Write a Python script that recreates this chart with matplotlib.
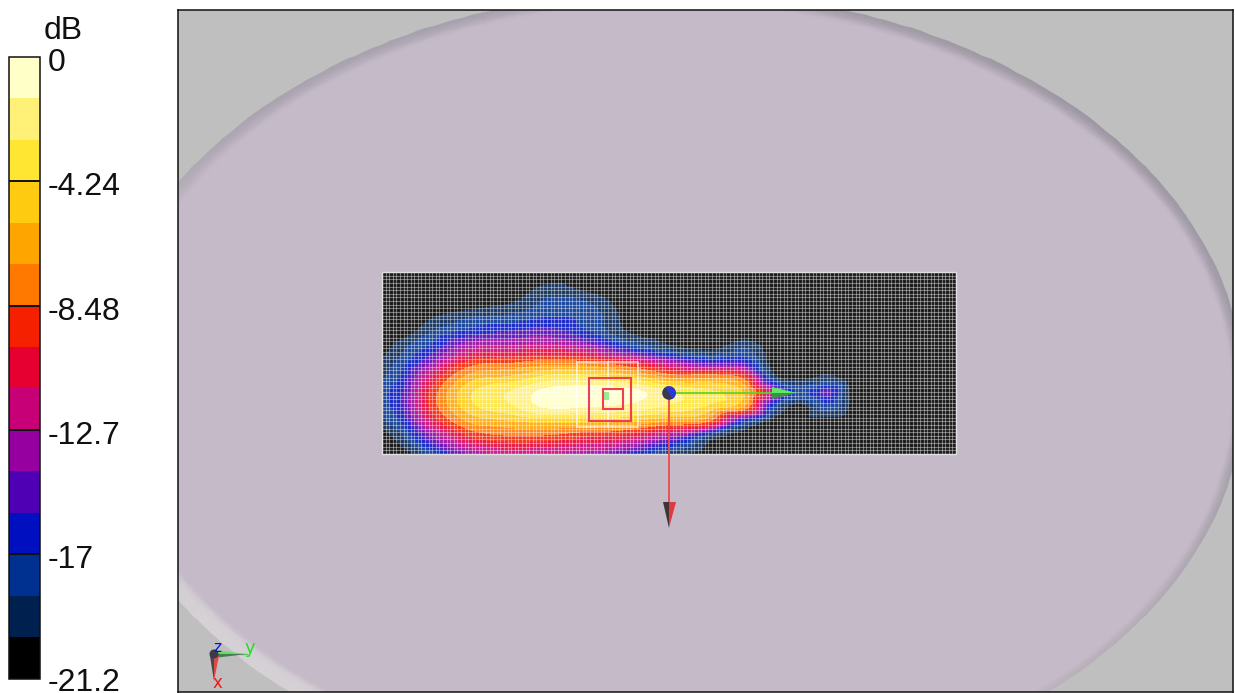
import numpy as np
import matplotlib
matplotlib.use("Agg")
import matplotlib.pyplot as plt
import matplotlib.tri as mtri
from matplotlib.colors import ListedColormap, BoundaryNorm
from matplotlib.cm import ScalarMappable
from matplotlib.patches import Polygon, Circle, Rectangle, Ellipse, Wedge

plt.rcParams['font.family'] = ['Liberation Sans', 'DejaVu Sans']

# ---- data ---------------------------------------------------------------
tick_values = [0, -4.24, -8.48, -12.72, -16.96, -21.2]
tick_labels = ['0', '-4.24', '-8.48', '-12.7', '-17', '-21.2']
band_colors = ['#000000', '#002050', '#003090', '#0010c0', '#5000b4',
               '#9600a0', '#c80078', '#e60032', '#f52000', '#ff7800',
               '#ffa500', '#ffcb10', '#ffe632', '#fff078', '#ffffc8']

scan_x = [382, 400, 430, 470, 510, 550, 590, 630, 670, 710, 745, 775, 800, 830, 850, 875, 956]
scan_y = [272, 287, 302, 317, 332, 347, 362, 377, 392, 407, 422, 437, 454]
db_382 = [-21, -21, -21, -21, -21, -21, -19.5, -18.7, -17.5, -17.8, -19, -21, -21]
db_400 = [-21, -21, -21, -21, -21, -19, -18, -17, -16, -16, -17.2, -19, -21]
db_430 = [-21, -21, -21, -20, -18.5, -16.8, -14.5, -11.5, -9.8, -9.8, -11.5, -14.5, -18]
db_470 = [-21, -21, -21, -18.5, -16.5, -13, -9.5, -6.5, -4.5, -4.8, -7, -10, -14]
db_510 = [-21, -21, -20, -18, -15.5, -12.5, -8.8, -5.5, -2.8, -3.2, -6, -8.8, -12.5]
db_550 = [-21, -19.5, -18, -17, -15, -12, -8, -3.8, -0.8, -1.2, -5.5, -9, -13]
db_590 = [-21, -20.5, -18.5, -17.5, -17, -13.5, -8.5, -3.8, -0.3, -1.5, -5.5, -10, -13.5]
db_630 = [-21, -21, -21, -20.5, -20, -17, -10.5, -5, -0.8, -2, -6, -11, -16]
db_670 = [-21, -21, -21, -21, -21, -19.5, -13.5, -7.5, -2.8, -3.2, -7.5, -14, -19]
db_710 = [-21, -21, -21, -21, -21, -20.5, -15.8, -7.5, -4, -4.8, -9, -19, -21]
db_745 = [-21, -21, -21, -21, -21, -18.5, -16, -9.5, -6, -7.5, -17.5, -21, -21]
db_775 = [-21, -21, -21, -21, -21, -21, -21, -19.5, -13.5, -18, -21, -21, -21]
db_800 = [-21, -21, -21, -21, -21, -21, -21, -20.5, -17.5, -20.5, -21, -21, -21]
db_830 = [-21, -21, -21, -21, -21, -21, -21, -19.5, -15.3, -17.5, -21, -21, -21]
db_850 = [-21, -21, -21, -21, -21, -21, -21, -21, -19.8, -20, -21, -21, -21]
db_875 = [-21, -21, -21, -21, -21, -21, -21, -21, -21, -21, -21, -21, -21]
db_956 = [-21, -21, -21, -21, -21, -21, -21, -21, -21, -21, -21, -21, -21]
db_columns = [db_382, db_400, db_430, db_470, db_510, db_550, db_590, db_630, db_670,
              db_710, db_745, db_775, db_800, db_830, db_850, db_875, db_956]

# ---- figure -------------------------------------------------------------
W, H = 1235, 693
fig = plt.figure(figsize=(W / 100, H / 100), dpi=100, facecolor='white')


def axes_px(x0, y0, x1, y1):
    return fig.add_axes([x0 / W, 1 - y1 / H, (x1 - x0) / W, (y1 - y0) / H])


ax = axes_px(178, 10, 1233, 692)
ax.set_xlim(178, 1233)
ax.set_ylim(692, 10)
ax.set_xticks([])
ax.set_yticks([])
ax.set_facecolor('#bfbfbf')
for s in ax.spines.values():
    s.set_linewidth(1.1)
    s.set_color('#101010')
    s.set_zorder(20)

# phantom: flat surface with a shaded rim
cx, cy, a, b = 669, 391, 575, 400
surface = np.array([0xc5, 0xba, 0xc8]) / 255
key_deg = [0, 45, 90, 135, 180, 215, 240, 270, 315, 360]
key_w = [12, 13, 12, 13, 16, 19, 19, 11, 7, 12]
key_r = [0xa0, 0x9b, 0xa4, 0xa9, 0xc8, 0xd6, 0xd6, 0xd0, 0xb8, 0xa0]
key_g = [0x9b, 0x96, 0x9e, 0xa2, 0xc4, 0xd2, 0xd2, 0xca, 0xb0, 0x9b]
key_b = [0xa6, 0xa1, 0xa9, 0xaf, 0xca, 0xd6, 0xd6, 0xd2, 0xba, 0xa6]
key_exp = [1.6, 1.6, 1.6, 1.6, 3, 6, 6, 3, 1.6, 1.6]
ang = np.linspace(0, 360, 361)
width = np.interp(ang, key_deg, key_w)
exponent = np.interp(ang, key_deg, key_exp)
rim_rgb = np.stack([np.interp(ang, key_deg, k) for k in (key_r, key_g, key_b)], axis=1) / 255
ax.add_patch(Ellipse((cx, cy), 2 * a, 2 * b, fc=surface, ec='none', zorder=1))
fr = np.linspace(0, 1, 11)
T = np.radians(ang)[:, None]
nx = b * np.cos(T)
ny = a * np.sin(T)
nn = np.hypot(nx, ny)
Xr = cx + a * np.cos(T) - width[:, None] * fr[None, :] * nx / nn
Yr = cy - b * np.sin(T) + width[:, None] * fr[None, :] * ny / nn
midfr = (fr[:-1] + fr[1:]) / 2
C = np.zeros((len(ang) - 1, len(midfr), 3))
for i in range(len(ang) - 1):
    for j, f in enumerate(midfr):
        mix = f ** exponent[i]
        C[i, j] = rim_rgb[i] * (1 - mix) + surface * mix
ax.pcolormesh(Xr, Yr, C, shading='flat', zorder=2, antialiased=True, edgecolors='face', linewidth=0.3)

# scan field
levels = np.linspace(-21.2, 0, 16)
cmap = ListedColormap(band_colors)
cmap.set_under('#000000')
cmap.set_over('#ffffc8')
norm = BoundaryNorm(levels, cmap.N)
XX, YY = np.meshgrid(scan_x, scan_y, indexing='ij')
ZZ = np.array(db_columns)
tri = mtri.Triangulation(XX.ravel(), YY.ravel())
refiner = mtri.UniformTriRefiner(tri)
cubic = mtri.CubicTriInterpolator(tri, ZZ.ravel(), kind='geom')
fine_tri, fine_z = refiner.refine_field(ZZ.ravel(), triinterpolator=cubic, subdiv=3)
ax.tricontourf(fine_tri, fine_z, levels=levels, cmap=cmap, norm=norm, extend='both', zorder=3)

# measurement mesh
mesh_cols = 160
mesh_rows = 50
mx = np.linspace(scan_x[0], scan_x[-1], mesh_cols + 1)
my = np.linspace(scan_y[0], scan_y[-1], mesh_rows + 1)
ax.add_patch(Rectangle((scan_x[0], scan_y[0]), scan_x[-1] - scan_x[0], scan_y[-1] - scan_y[0],
                       fc='white', ec='none', alpha=0.1, zorder=4))
ax.vlines(mx, scan_y[0], scan_y[-1], colors='white', linewidth=0.8, alpha=0.4, zorder=4)
ax.hlines(my, scan_x[0], scan_x[-1], colors='white', linewidth=0.8, alpha=0.4, zorder=4)
ax.add_patch(Rectangle((scan_x[0], scan_y[0]), scan_x[-1] - scan_x[0], scan_y[-1] - scan_y[0],
                       fc='none', ec='#e0e0e0', lw=1.0, zorder=5))

# zoom-scan boxes
ax.add_patch(Rectangle((577, 362), 61, 65, fc='none', ec='#ffffff', alpha=0.6, lw=1.3, zorder=6))
ax.plot([608, 608], [362, 427], color='#ffffff', alpha=0.6, lw=1.3, zorder=6)
ax.add_patch(Rectangle((602, 392), 7, 8, fc='#70e070', ec='none', alpha=0.7, zorder=6))
ax.add_patch(Rectangle((588.5, 378), 42, 43, fc='none', ec='#f04050', lw=1.5, zorder=7))
ax.add_patch(Rectangle((603, 389), 20, 20, fc='none', ec='#f04050', lw=1.5, zorder=7))

# coordinate system at the source
ax.plot([669, 772], [393, 393], color='#58d020', lw=1.2, zorder=8)
ax.plot([669, 669], [393, 503], color='#f04848', lw=1.3, zorder=8)
ax.add_patch(Polygon([(772, 387), (797, 393), (772, 393)], fc='#60e860', ec='none', zorder=9))
ax.add_patch(Polygon([(772, 393), (797, 393), (772, 399)], fc='#3f8f48', ec='none', zorder=9))
ax.add_patch(Polygon([(663, 502), (669, 502), (669, 528)], fc='#3c3436', ec='none', zorder=9))
ax.add_patch(Polygon([(669, 502), (676, 502), (669, 528)], fc='#e03a40', ec='none', zorder=9))
ax.add_patch(Circle((669, 393), 6.8, fc='#3a3a4a', ec='none', zorder=10))
ax.add_patch(Wedge((669, 393), 6.8, -120, 60, fc='#2a38d8', ec='none', zorder=11))

# orientation triad
ax.plot([212, 247], [654, 654], color='#60d060', lw=1.0, zorder=8)
ax.add_patch(Polygon([(214, 650), (247, 654), (214, 654)], fc='#60e060', ec='none', zorder=9))
ax.add_patch(Polygon([(214, 654), (247, 654), (214, 658)], fc='#4a7a50', ec='none', zorder=9))
ax.add_patch(Polygon([(210, 656), (215, 656), (214, 681)], fc='#484848', ec='none', zorder=9))
ax.add_patch(Polygon([(214, 656), (219, 656), (214, 681)], fc='#e04848', ec='none', zorder=9))
ax.add_patch(Circle((214, 654), 4.5, fc='#3a3a4a', ec='none', zorder=10))
ax.text(217, 648, 'z', color='#1010e0', fontsize=11, ha='center', va='center', family='DejaVu Sans', zorder=12)
ax.text(250, 648, 'y', color='#20e020', fontsize=13, ha='center', va='center', family='DejaVu Sans', zorder=12)
ax.text(217, 683, 'x', color='#f01818', fontsize=12, ha='center', va='center', family='DejaVu Sans', zorder=12)

# colour scale
cax = axes_px(9, 57, 40, 678.5)
sm = ScalarMappable(norm=BoundaryNorm(levels, cmap.N), cmap=ListedColormap(band_colors))
cb = fig.colorbar(sm, cax=cax, extend='neither', spacing='proportional', drawedges=False)
cb.set_ticks([])
cb.ax.yaxis.set_ticks([], minor=True)
cb.outline.set_linewidth(1.1)
cb.outline.set_edgecolor('#101010')
cax.hlines(tick_values[1:-1], 0, 1, colors='#101010', linewidth=1.4, transform=cax.get_yaxis_transform())
for v, lab in zip(tick_values, tick_labels):
    dy = -3.0 if v == tick_values[-1] else -4.4
    cax.annotate(lab, xy=(1, v), xycoords=cax.get_yaxis_transform(), xytext=(5.8, dy),
                 textcoords='offset points', fontsize=23, ha='left', va='center',
                 color='#101010', annotation_clip=False)
fig.text(63 / W, 1 - 31 / H, 'dB', fontsize=23, ha='center', va='center', color='#101010')

fig.savefig('out.png', dpi=100)
